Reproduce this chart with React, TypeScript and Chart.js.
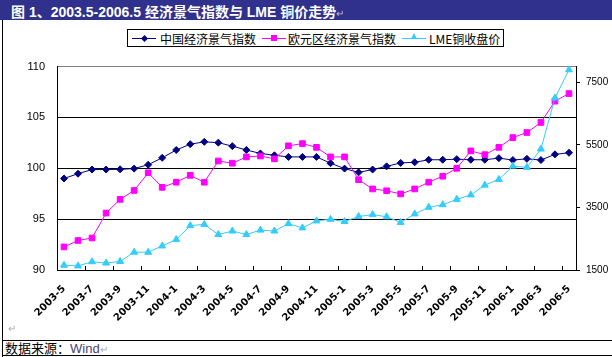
import React, { useEffect, useRef } from "react";
import { Chart, registerables } from "chart.js";

Chart.register(...registerables);

const months: string[] = [
  "2003-5", "2003-6", "2003-7", "2003-8", "2003-9", "2003-10", "2003-11", "2003-12",
  "2004-1", "2004-2", "2004-3", "2004-4", "2004-5", "2004-6", "2004-7", "2004-8",
  "2004-9", "2004-10", "2004-11", "2004-12", "2005-1", "2005-2", "2005-3", "2005-4",
  "2005-5", "2005-6", "2005-7", "2005-8", "2005-9", "2005-10", "2005-11", "2005-12",
  "2006-1", "2006-2", "2006-3", "2006-4", "2006-5",
];

const chinaIndex: number[] = [
  99.0, 99.47, 99.88, 99.88, 99.9, 99.97, 100.35, 101.03, 101.8, 102.37, 102.6,
  102.52, 102.18, 101.8, 101.46, 101.28, 101.12, 101.12, 101.12, 100.5, 99.97,
  99.6, 99.88, 100.19, 100.53, 100.59, 100.84, 100.84, 100.9, 100.84, 100.84,
  101.0, 100.81, 100.93, 100.81, 101.37, 101.53,
];

const euroIndex: number[] = [
  92.27, 92.9, 93.15, 95.6, 96.95, 97.82, 99.56, 98.13, 98.63, 99.31, 98.63,
  100.72, 100.5, 101.12, 101.21, 100.93, 102.21, 102.43, 102.06, 101.12, 101.12,
  98.88, 97.97, 97.79, 97.48, 97.97, 98.63, 99.22, 100.0, 101.71, 101.34,
  102.06, 103.02, 103.52, 104.51, 106.6, 107.35,
];

const lmeCopper: number[] = [
  1652, 1631, 1764, 1723, 1773, 2068, 2068, 2268, 2472, 2918, 2958,
  2633, 2745, 2633, 2775, 2745, 2979, 2846, 3069, 3119, 3049,
  3210, 3271, 3201, 3019, 3292, 3504, 3586, 3757, 3899, 4212,
  4394, 4820, 4780, 5366, 6997, 7899,
];

const leftTicks: number[] = [90, 95, 100, 105, 110];
const rightTicks: number[] = [1500, 3500, 5500, 7500];

const seriesNames = ["中国经济景气指数", "欧元区经济景气指数", "LME铜收盘价"];
const NAVY = "#000080";
const MAGENTA = "#FF00FF";
const CYAN = "#33CCFF";

const insideTicks = {
  id: "insideTicks",
  afterDraw(chart: any) {
    const xs = chart.scales.x;
    const bottom = chart.chartArea.bottom;
    const ctx = chart.ctx;
    ctx.save();
    ctx.strokeStyle = "#000";
    ctx.lineWidth = 1;
    for (let k = 2; k < months.length; k += 2) {
      const x = (xs.getPixelForValue(k - 1) + xs.getPixelForValue(k)) / 2;
      const px = Math.round(x) + 0.5;
      ctx.beginPath();
      ctx.moveTo(px, bottom);
      ctx.lineTo(px, bottom - 4);
      ctx.stroke();
    }
    ctx.restore();
  },
};

function LegendSample({ color, shape }: { color: string; shape: string }) {
  let marker: React.ReactNode = null;
  if (shape === "diamond") {
    marker = (
      <div style={{ position: "absolute", left: 10, top: 5, width: 5, height: 5, background: color, transform: "rotate(45deg)" }} />
    );
  } else if (shape === "square") {
    marker = <div style={{ position: "absolute", left: 9, top: 4, width: 6, height: 6, background: color }} />;
  } else {
    marker = (
      <div style={{ position: "absolute", left: 9, top: 2, width: 0, height: 0, borderLeft: "3.5px solid transparent", borderRight: "3.5px solid transparent", borderBottom: `6px solid ${color}` }} />
    );
  }
  return (
    <div style={{ position: "relative", width: 24, height: 14, flex: "0 0 auto" }}>
      <div style={{ position: "absolute", left: 0, right: 0, top: 7, height: 1, background: color }} />
      {marker}
    </div>
  );
}

export default function App() {
  const canvasRef = useRef<HTMLCanvasElement | null>(null);

  useEffect(() => {
    document.body.style.margin = "0";
    const canvas = canvasRef.current;
    if (!canvas) return;
    const chart = new Chart(canvas, {
      type: "line",
      data: {
        labels: months,
        datasets: [
          {
            label: seriesNames[0],
            data: chinaIndex,
            yAxisID: "y",
            borderColor: NAVY,
            backgroundColor: NAVY,
            borderWidth: 1,
            pointStyle: "rectRot",
            pointRadius: 3.5,
            pointBorderWidth: 1,
            tension: 0,
            order: 3,
          },
          {
            label: seriesNames[1],
            data: euroIndex,
            yAxisID: "y",
            borderColor: MAGENTA,
            backgroundColor: MAGENTA,
            borderWidth: 1,
            pointStyle: "rect",
            pointRadius: 4,
            pointBorderWidth: 1,
            tension: 0,
            order: 2,
          },
          {
            label: seriesNames[2],
            data: lmeCopper,
            yAxisID: "y1",
            borderColor: CYAN,
            backgroundColor: CYAN,
            borderWidth: 1,
            pointStyle: "triangle",
            pointRadius: 4,
            pointBorderWidth: 1,
            tension: 0,
            order: 1,
          },
        ],
      },
      options: {
        animation: false,
        responsive: true,
        maintainAspectRatio: false,
        layout: { padding: { top: 8, left: 0, right: 0, bottom: 0 } },
        plugins: { legend: { display: false }, tooltip: { enabled: false } },
        scales: {
          x: {
            type: "category",
            offset: true,
            grid: { display: true, drawOnChartArea: false, drawTicks: false, offset: true },
            border: { display: true, color: "#000", width: 1 },
            ticks: {
              autoSkip: false,
              maxRotation: 45,
              minRotation: 45,
              padding: 13,
              color: "#000",
              font: { family: "DejaVu Sans", size: 10, weight: "bold" },
              callback: (_v: any, i: number) => (i % 2 === 0 ? months[i] : ""),
            },
            afterFit: (s: any) => {
              s.height = 52;
            },
          },
          y: {
            type: "linear",
            position: "left",
            min: 90,
            max: 110,
            grid: {
              drawTicks: false,
              color: (c: any) => (c.tick && c.tick.value === 110 ? "#808080" : "#000"),
              lineWidth: 1,
            },
            border: { display: true, color: "#000", width: 1 },
            ticks: {
              padding: 12,
              color: "#000",
              font: { family: "Liberation Sans", size: 11 },
              callback: (v: any) => String(v),
            },
            afterBuildTicks: (s: any) => {
              s.ticks = leftTicks.map((v) => ({ value: v }));
            },
            afterFit: (s: any) => {
              s.width = 57;
            },
          },
          y1: {
            type: "linear",
            position: "right",
            min: 1500,
            max: 8000,
            grid: { drawOnChartArea: false, drawTicks: true, tickLength: 4, color: "#000" },
            border: { display: true, color: "#000", width: 1 },
            ticks: {
              padding: 6,
              color: "#000",
              font: { family: "Liberation Sans", size: 10 },
              callback: (v: any) => String(v),
            },
            afterBuildTicks: (s: any) => {
              s.ticks = rightTicks.map((v) => ({ value: v }));
            },
            afterFit: (s: any) => {
              s.width = 36;
            },
          },
        },
      },
      plugins: [insideTicks],
    } as any);
    return () => chart.destroy();
  }, []);

  const cjk = '"Noto Sans CJK SC", "Liberation Sans", sans-serif';
  const latin: React.CSSProperties = { fontSize: 14, fontFamily: '"Liberation Sans", sans-serif' };

  return (
    <div style={{ position: "relative", width: 612, height: 357, background: "#fff", overflow: "hidden", fontFamily: cjk }}>
      <div style={{ position: "absolute", left: 0, top: 0, width: 612, height: 20, background: "#2f318c" }} />
      <div style={{ position: "absolute", left: 11, top: 1, height: 19, lineHeight: "19px", color: "#fff", fontWeight: "bold", whiteSpace: "nowrap" }}>
        <span style={{ fontSize: 14 }}>图</span>
        <span style={latin}> 1</span>
        <span style={{ fontSize: 14 }}>、</span>
        <span style={latin}>2003.5-2006.5 </span>
        <span style={{ fontSize: 14 }}>经济景气指数与</span>
        <span style={latin}> LME </span>
        <span style={{ fontSize: 14 }}>铜价走势</span>
        <span style={{ fontSize: 10, color: "#b8b8d8", fontWeight: "normal" }}>↵</span>
      </div>
      <div style={{ position: "absolute", left: 2, top: 20, width: 1, height: 337, background: "#000" }} />

      <div style={{ position: "absolute", left: 127, top: 29, width: 375, height: 16, border: "1px solid #000", background: "#fff", display: "flex", alignItems: "center", fontSize: 12, color: "#000", whiteSpace: "nowrap", boxSizing: "content-box" }}>
        <div style={{ width: 4 }} />
        <LegendSample color={NAVY} shape="diamond" />
        <span style={{ marginLeft: 4, marginRight: 6 }}>{seriesNames[0]}</span>
        <LegendSample color={MAGENTA} shape="square" />
        <span style={{ marginLeft: 2, marginRight: 6 }}>{seriesNames[1]}</span>
        <LegendSample color={CYAN} shape="triangle" />
        <span style={{ marginLeft: 3 }}>{seriesNames[2]}</span>
      </div>

      <div style={{ position: "absolute", left: 0, top: 48, width: 612, height: 274 }}>
        <canvas ref={canvasRef} />
      </div>

      <div style={{ position: "absolute", left: 8, top: 320, fontSize: 10, color: "#aaa" }}>↵</div>
      <div style={{ position: "absolute", left: 2, top: 340, width: 610, height: 1, background: "#000" }} />
      <div style={{ position: "absolute", left: 5, top: 341, height: 14, lineHeight: "14px", fontSize: 13, color: "#000", whiteSpace: "nowrap" }}>
        数据来源：<span style={{ color: "#4b3f72", fontFamily: '"Liberation Sans", sans-serif' }}>Wind</span>
        <span style={{ fontSize: 10, color: "#aaa" }}>↵</span>
      </div>
      <div style={{ position: "absolute", left: 2, top: 355, width: 610, height: 1, background: "#000" }} />
    </div>
  );
}
